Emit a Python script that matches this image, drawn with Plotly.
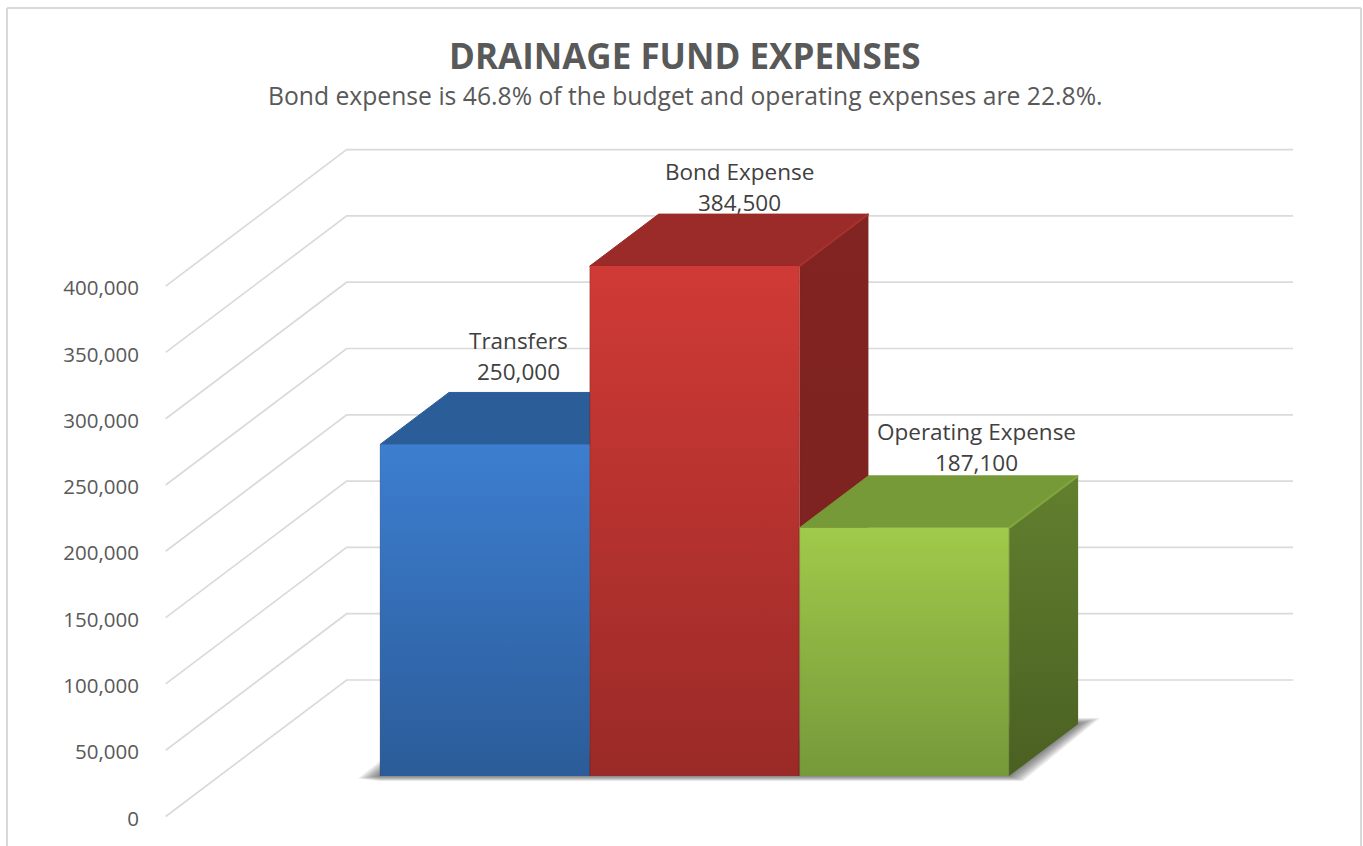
import plotly.graph_objects as go

# ---- data ----
categories = ["Transfers", "Bond Expense", "Operating Expense"]
values = [250000, 384500, 187100]
value_labels = ["250,000", "384,500", "187,100"]
tick_values = [0, 50000, 100000, 150000, 200000, 250000, 300000, 350000, 400000]
tick_labels = ["0", "50,000", "100,000", "150,000", "200,000", "250,000", "300,000", "350,000", "400,000"]
title_text = "DRAINAGE FUND EXPENSES"
subtitle_text = "Bond expense is 46.8% of the budget and operating expenses are 22.8%."

# ---- styles ----
front_top = ["#3d7ed0", "#d03a36", "#a0ca4a"]
front_bottom = ["#2b5c99", "#9a2a27", "#76993a"]
top_face = ["#2b5d99", "#9b2b28", "#779a38"]
top_edge = ["#2f65a6", "#a6322f", "#82a63e"]
side_top = ["#264f83", "#822421", "#62802f"]
side_bottom = ["#1f4470", "#7a2220", "#4a6022"]
label_xshift = [-35, -24, 3]
label_yshift = [21, 12, 13]

W, H = 1363, 846
LEFT = 150
PX_X0 = 326.3        # pixel of category position 0 at depth 0
PX_PER_CAT = 209.7
PX_PER_UNIT = 0.001326
PX_Y0 = 816.5        # pixel of value 0 at depth 0
WALL_DX = 181.0      # pixel shift from front to back of the chart box
WALL_DY = 136.5
DEPTH_FRONT = 0.297
DEPTH_BACK = 0.678
WALL_LEFT = -0.766
WALL_RIGHT = 3.747
GRID = "#dadada"
TEXT = "#595959"
LABEL = "#404040"
FONT = "Open Sans"


def project(cat, val, depth, dx_px=0.0, dy_px=0.0):
    """Oblique projection; dx_px / dy_px nudge a point by screen pixels (dy up)."""
    return (cat + depth * WALL_DX / PX_PER_CAT + dx_px / PX_PER_CAT,
            val + depth * WALL_DY / PX_PER_UNIT + dy_px / PX_PER_UNIT)


def poly(points):
    xy = [project(*p) for p in points]
    xs = [a for a, _ in xy] + [xy[0][0]]
    ys = [b for _, b in xy] + [xy[0][1]]
    return xs, ys


def seg(points):
    xy = [project(*p) for p in points]
    return [a for a, _ in xy], [b for _, b in xy]


fig = go.Figure()

# gridlines on side wall and back wall
for t in tick_values:
    xs, ys = seg([(WALL_LEFT, t, 0), (WALL_LEFT, t, 1), (WALL_RIGHT, t, 1)])
    fig.add_trace(go.Scatter(x=xs, y=ys, mode="lines", line=dict(color=GRID, width=1.7), hoverinfo="skip"))

# soft floor shadow, built up from stacked translucent layers
n = len(values)
LAYERS = 10
for k in range(LAYERS):
    g = 1 - k / LAYERS
    xs, ys = poly([
        (0, 0, DEPTH_FRONT, 0, 15 * g),
        (0, 0, DEPTH_FRONT, -22 * g, -2.5 * g),
        (0, 0, DEPTH_FRONT, 0, -5 * g),
        (n, 0, DEPTH_FRONT, 14 * g, -5 * g),
        (n, 0, DEPTH_BACK, 22 * g, 6 * g),
        (n, 0, DEPTH_BACK, 0, 6 * g),
    ])
    fig.add_trace(go.Scatter(x=xs, y=ys, mode="lines", fill="toself",
                             fillcolor="rgba(45,45,45,0.08)", line=dict(width=0), hoverinfo="skip"))

# bars (left to right so that later bars overlap earlier ones)
for i, v in enumerate(values):
    # top face
    xs, ys = poly([(i, v, DEPTH_FRONT), (i, v, DEPTH_BACK), (i + 1, v, DEPTH_BACK), (i + 1, v, DEPTH_FRONT)])
    fig.add_trace(go.Scatter(x=xs, y=ys, mode="lines", fill="toself", fillcolor=top_face[i],
                             line=dict(color=top_face[i], width=1), hoverinfo="skip"))
    # right side face
    xs, ys = poly([(i + 1, 0, DEPTH_FRONT), (i + 1, 0, DEPTH_BACK), (i + 1, v, DEPTH_BACK), (i + 1, v, DEPTH_FRONT)])
    fig.add_trace(go.Scatter(x=xs, y=ys, mode="lines", fill="toself",
                             fillgradient=dict(type="vertical",
                                               colorscale=[[0, side_bottom[i]], [1, side_top[i]]]),
                             line=dict(width=0), hoverinfo="skip"))
    # lighter bevel between top and side
    xs, ys = seg([(i + 1, v, DEPTH_FRONT), (i + 1, v, DEPTH_BACK)])
    fig.add_trace(go.Scatter(x=xs, y=ys, mode="lines", line=dict(color=top_edge[i], width=2), hoverinfo="skip"))
    # front face
    xs, ys = poly([(i, 0, DEPTH_FRONT), (i, v, DEPTH_FRONT), (i + 1, v, DEPTH_FRONT), (i + 1, 0, DEPTH_FRONT)])
    fig.add_trace(go.Scatter(x=xs, y=ys, mode="lines", fill="toself",
                             fillgradient=dict(type="vertical",
                                               colorscale=[[0, front_bottom[i]], [1, front_top[i]]]),
                             line=dict(width=0), hoverinfo="skip"))
    # darker seams down both vertical edges of the front face
    xs, ys = seg([(i, 0, DEPTH_FRONT), (i, v, DEPTH_FRONT)])
    fig.add_trace(go.Scatter(x=xs, y=ys, mode="lines", line=dict(color="rgba(0,0,0,0.13)", width=1.5), hoverinfo="skip"))
    xs, ys = seg([(i + 1, 0, DEPTH_FRONT), (i + 1, v, DEPTH_FRONT)])
    fig.add_trace(go.Scatter(x=xs, y=ys, mode="lines", line=dict(color="rgba(0,0,0,0.10)", width=1.5), hoverinfo="skip"))

# bar labels
annotations = []
for i, v in enumerate(values):
    ax, ay = project(i + 0.5, v, DEPTH_BACK)
    for text, extra in ((value_labels[i], 0), (categories[i], 31)):
        annotations.append(dict(x=ax, y=ay, xref="x", yref="y", text=text, showarrow=False,
                                xanchor="center", yanchor="middle",
                                xshift=label_xshift[i], yshift=label_yshift[i] + extra,
                                font=dict(family=FONT, size=22.5, color=LABEL)))


def px(x):
    return (x - LEFT) / (W - LEFT)


def py(y):
    return 1 - y / H


annotations.append(dict(x=px(685), y=py(56), xref="paper", yref="paper", text=f"<b>{title_text}</b>",
                        showarrow=False, xanchor="center", yanchor="middle",
                        font=dict(family=FONT, size=35, color=TEXT)))
annotations.append(dict(x=px(685), y=py(96), xref="paper", yref="paper", text=subtitle_text,
                        showarrow=False, xanchor="center", yanchor="middle",
                        font=dict(family=FONT, size=24.7, color=TEXT)))

# chart frame (open at the bottom, where the picture is cropped)
frame = [dict(type="line", xref="paper", yref="paper", x0=px(a), y0=py(b), x1=px(c), y1=py(d),
              line=dict(color="#d9d9d9", width=2), layer="below")
         for a, b, c, d in [(7, 8, 7, H), (7, 8, 1361, 8), (1361, 8, 1361, H)]]

fig.update_layout(
    width=W, height=H, margin=dict(l=LEFT, r=0, t=0, b=0, pad=0),
    paper_bgcolor="white", plot_bgcolor="white", showlegend=False,
    annotations=annotations, shapes=frame,
    xaxis=dict(visible=False, range=[(LEFT - PX_X0) / PX_PER_CAT, (W - PX_X0) / PX_PER_CAT], fixedrange=True),
    yaxis=dict(range=[-(H - PX_Y0) / PX_PER_UNIT, PX_Y0 / PX_PER_UNIT], tickmode="array",
               tickvals=tick_values, ticktext=tick_labels, showgrid=False, zeroline=False,
               showline=False, ticks="outside", ticklen=6, tickcolor="rgba(0,0,0,0)", tickwidth=0,
               ticklabelshift=2,
               tickfont=dict(family=FONT, size=20.5, color=TEXT), fixedrange=True),
)

fig.write_html("out.html", config=dict(displayModeBar=False),
               post_script="document.body.style.margin='0';document.body.style.overflow='hidden';")
